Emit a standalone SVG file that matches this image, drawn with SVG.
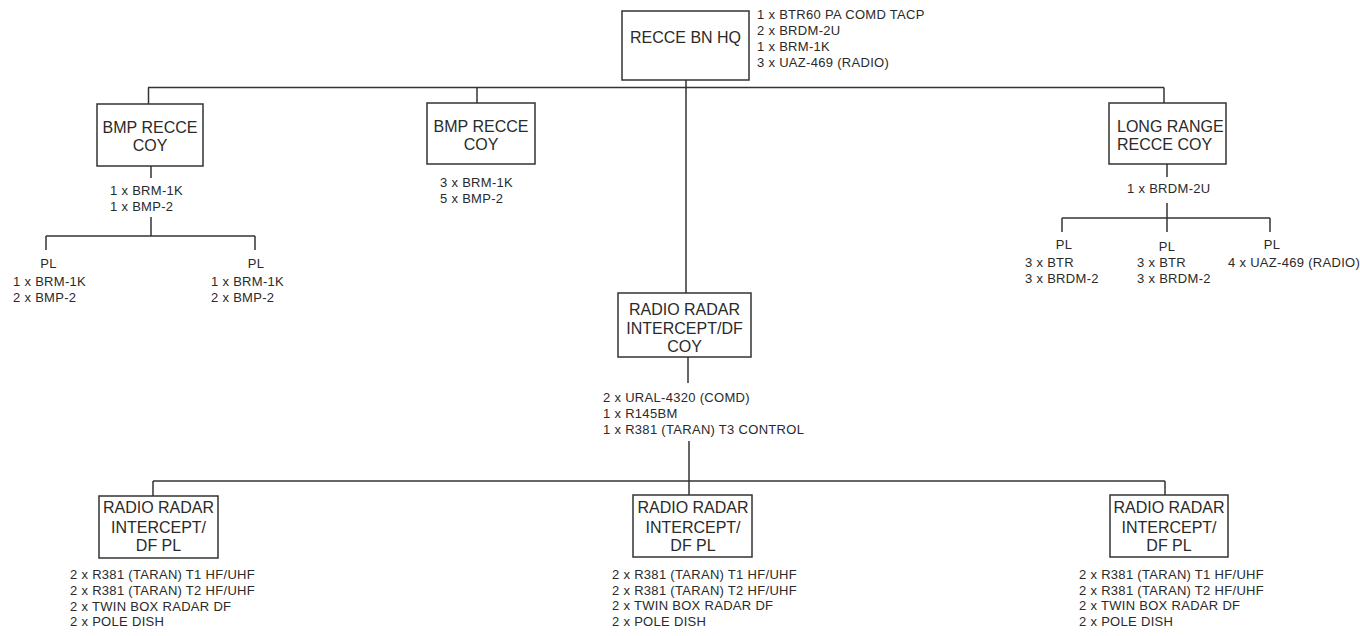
<svg xmlns="http://www.w3.org/2000/svg" width="1360" height="636" viewBox="0 0 1360 636">
<style>
  .box { fill: #ffffff; stroke: #333333; stroke-width: 1.5; }
  .ln { stroke: #333333; stroke-width: 1.5; fill: none; }
  .bt { font-family: "Liberation Sans", Arial, sans-serif; font-size: 16px; fill: #2a2a2a; text-anchor: middle; }
  .bl { font-family: "Liberation Sans", Arial, sans-serif; font-size: 16px; fill: #2a2a2a; }
  .st { font-family: "Liberation Sans", Arial, sans-serif; font-size: 13px; letter-spacing: 0.3px; fill: #2a2a2a; }
  .pl { font-family: "Liberation Sans", Arial, sans-serif; font-size: 13px; letter-spacing: 0.3px; fill: #2a2a2a; text-anchor: middle; }
</style>
<rect width="1360" height="636" fill="#ffffff"/>
<g id="connectors">
  <path class="ln" d="M686 80 V293"/>
  <path class="ln" d="M148 87.5 H1164"/>
  <path class="ln" d="M148.5 87.5 V104"/>
  <path class="ln" d="M477 87.5 V103"/>
  <path class="ln" d="M1164 87.5 V103"/>
  <path class="ln" d="M151 166 V178"/>
  <path class="ln" d="M151 217 V236"/>
  <path class="ln" d="M46 236 H255"/>
  <path class="ln" d="M46 236 V250"/>
  <path class="ln" d="M255 236 V250"/>
  <path class="ln" d="M1167 164 V177"/>
  <path class="ln" d="M1167 203 V218"/>
  <path class="ln" d="M1062 218 H1270"/>
  <path class="ln" d="M1062 218 V232"/>
  <path class="ln" d="M1167 218 V232"/>
  <path class="ln" d="M1270 218 V232"/>
  <path class="ln" d="M688 357 V383"/>
  <path class="ln" d="M689 441 V495"/>
  <path class="ln" d="M153 481 H1165"/>
  <path class="ln" d="M153 481 V496"/>
  <path class="ln" d="M1165 481 V495"/>
</g>
<g id="hq">
  <rect class="box" x="622" y="11" width="127" height="69"/>
  <text class="bt" x="685.5" y="43">RECCE BN HQ</text>
  <text class="st" x="757" y="19">1 x BTR60 PA COMD TACP</text>
  <text class="st" x="757" y="35">2 x BRDM-2U</text>
  <text class="st" x="757" y="51">1 x BRM-1K</text>
  <text class="st" x="757" y="67">3 x UAZ-469 (RADIO)</text>
</g>
<g id="bmp-coy-1">
  <rect class="box" x="97" y="104" width="106" height="62"/>
  <text class="bt" x="150" y="133">BMP RECCE</text>
  <text class="bt" x="150" y="150.5">COY</text>
  <text class="st" x="110" y="195">1 x BRM-1K</text>
  <text class="st" x="110" y="211">1 x BMP-2</text>
</g>
<g id="bmp-pl-1">
  <text class="pl" x="48.5" y="268">PL</text>
  <text class="st" x="13" y="285.5">1 x BRM-1K</text>
  <text class="st" x="13" y="302">2 x BMP-2</text>
</g>
<g id="bmp-pl-2">
  <text class="pl" x="256" y="268">PL</text>
  <text class="st" x="211" y="285.5">1 x BRM-1K</text>
  <text class="st" x="211" y="302">2 x BMP-2</text>
</g>
<g id="bmp-coy-2">
  <rect class="box" x="427" y="103" width="108" height="61"/>
  <text class="bt" x="481" y="131.5">BMP RECCE</text>
  <text class="bt" x="481" y="150">COY</text>
  <text class="st" x="440" y="187">3 x BRM-1K</text>
  <text class="st" x="440" y="203">5 x BMP-2</text>
</g>
<g id="lr-coy">
  <rect class="box" x="1109" y="103" width="117" height="61"/>
  <text class="bl" x="1117" y="131.5">LONG RANGE</text>
  <text class="bl" x="1117" y="150">RECCE COY</text>
  <text class="st" x="1127" y="193">1 x BRDM-2U</text>
</g>
<g id="lr-pl-1">
  <text class="pl" x="1064" y="249">PL</text>
  <text class="st" x="1025" y="266.5">3 x BTR</text>
  <text class="st" x="1025" y="282.5">3 x BRDM-2</text>
</g>
<g id="lr-pl-2">
  <text class="pl" x="1167" y="251">PL</text>
  <text class="st" x="1137" y="266.5">3 x BTR</text>
  <text class="st" x="1137" y="282.5">3 x BRDM-2</text>
</g>
<g id="lr-pl-3">
  <text class="pl" x="1272" y="249">PL</text>
  <text class="st" x="1228" y="266.5">4 x UAZ-469 (RADIO)</text>
</g>
<g id="rr-coy">
  <rect class="box" x="618" y="293" width="133" height="64"/>
  <text class="bt" x="684.5" y="315">RADIO RADAR</text>
  <text class="bt" x="684.5" y="334">INTERCEPT/DF</text>
  <text class="bt" x="684.5" y="352">COY</text>
  <text class="st" x="603" y="402">2 x URAL-4320 (COMD)</text>
  <text class="st" x="603" y="418">1 x R145BM</text>
  <text class="st" x="603" y="433.5">1 x R381 (TARAN) T3 CONTROL</text>
</g>
<g id="rr-pl-1">
  <rect class="box" x="99" y="496" width="119" height="62"/>
  <text class="bt" x="158.5" y="513">RADIO RADAR</text>
  <text class="bt" x="158.5" y="533">INTERCEPT/</text>
  <text class="bt" x="158.5" y="551">DF PL</text>
  <text class="st" x="70" y="579">2 x R381 (TARAN) T1 HF/UHF</text>
  <text class="st" x="70" y="595">2 x R381 (TARAN) T2 HF/UHF</text>
  <text class="st" x="70" y="610.5">2 x TWIN BOX RADAR DF</text>
  <text class="st" x="70" y="626">2 x POLE DISH</text>
</g>
<g id="rr-pl-2">
  <rect class="box" x="633" y="495" width="119" height="62"/>
  <text class="bt" x="693" y="512.5">RADIO RADAR</text>
  <text class="bt" x="693" y="533">INTERCEPT/</text>
  <text class="bt" x="693" y="551">DF PL</text>
  <text class="st" x="612" y="578.5">2 x R381 (TARAN) T1 HF/UHF</text>
  <text class="st" x="612" y="594.5">2 x R381 (TARAN) T2 HF/UHF</text>
  <text class="st" x="612" y="610">2 x TWIN BOX RADAR DF</text>
  <text class="st" x="612" y="625.5">2 x POLE DISH</text>
</g>
<g id="rr-pl-3">
  <rect class="box" x="1110" y="495" width="118" height="62"/>
  <text class="bt" x="1169" y="512.5">RADIO RADAR</text>
  <text class="bt" x="1169" y="533">INTERCEPT/</text>
  <text class="bt" x="1169" y="551">DF PL</text>
  <text class="st" x="1079" y="578.5">2 x R381 (TARAN) T1 HF/UHF</text>
  <text class="st" x="1079" y="594.5">2 x R381 (TARAN) T2 HF/UHF</text>
  <text class="st" x="1079" y="610">2 x TWIN BOX RADAR DF</text>
  <text class="st" x="1079" y="625.5">2 x POLE DISH</text>
</g>
</svg>
